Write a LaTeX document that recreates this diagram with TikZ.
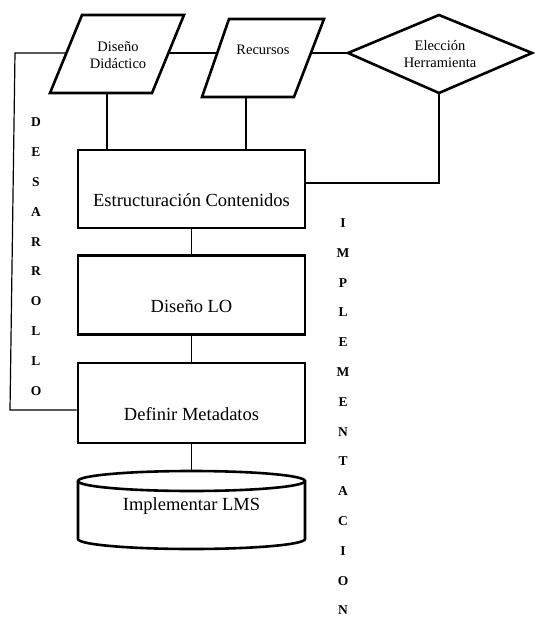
\documentclass[tikz,border=0pt]{standalone}
\usepackage{fontspec}
\setmainfont{Liberation Serif}
\begin{document}
\begin{tikzpicture}[x=1pt,y=-1pt,
  thick shape/.style={draw=black,line width=2.6pt,line join=miter},
  conn/.style={draw=black,line width=1.2pt},
  boxnode/.style={font=\fontsize{18.5}{21}\selectfont,inner sep=0pt},
  smalltxt/.style={font=\fontsize{14.5}{17}\selectfont,align=center,inner sep=0pt},
  letter/.style={font=\fontsize{13.5}{16}\selectfont\bfseries,inner sep=0pt}]
\useasboundingbox (0,0) rectangle (536,617);
% parallelogram 1
\coordinate (p1tl) at (82,15); \coordinate (p1tr) at (184,15);
\coordinate (p1br) at (152,93); \coordinate (p1bl) at (50,93);
\draw[thick shape] (p1tl) -- (p1tr) -- (p1br) -- (p1bl) -- cycle;
\node[smalltxt] (dd) at (118,55) {Diseño\\Didáctico};
% parallelogram 2
\coordinate (p2tl) at (229,19); \coordinate (p2tr) at (324,19);
\coordinate (p2br) at (294,97); \coordinate (p2bl) at (202,97);
\draw[thick shape] (p2tl) -- (p2tr) -- (p2br) -- (p2bl) -- cycle;
\node[smalltxt] (rec) at (263,50) {Recursos};
% diamond
\coordinate (dl) at (348,53); \coordinate (dt) at (439,15);
\coordinate (dr) at (532,53); \coordinate (db) at (439,93);
\draw[thick shape] (dl) -- (dt) -- (dr) -- (db) -- cycle;
\node[smalltxt] (el) at (440,54) {Elección\\Herramienta};
% boxes
\node[thick shape,boxnode,minimum width=227pt,minimum height=78pt] (b1) at (191.5,189) {};
\node[boxnode] (t1) at (191.5,200) {Estructuración Contenidos};
\node[thick shape,boxnode,minimum width=227pt,minimum height=79pt] (b2) at (191.5,295) {};
\node[boxnode] (t2) at (191.5,306) {Diseño LO};
\node[thick shape,boxnode,minimum width=227pt,minimum height=80pt] (b3) at (191.5,403) {};
\node[boxnode] (t3) at (191.5,414) {Definir Metadatos};
% cylinder
\coordinate (cyl) at (191.5,481);
\draw[thick shape] (78,481) -- (78,539) arc[start angle=180,end angle=360,x radius=113.5pt,y radius=10pt] -- (305,481);
\draw[thick shape,fill=white] (cyl) ellipse[x radius=113.5pt,y radius=10pt];
\node[boxnode] (t4) at (191.5,506) {Implementar LMS};
% connectors
\coordinate (lt) at (15,53);
\coordinate (lb) at (10,410);
\coordinate (p1l) at (66.4,53); \coordinate (p1r) at (168.4,53);
\coordinate (p2l) at (217.2,53); \coordinate (p2r) at (310.9,53);
\draw[conn] (p1l) -- (lt) -- (lb) -- (lb -| b3.west);
\draw[conn] (p1r) -- (p2l);
\draw[conn] (p2r) -- (dl);
\coordinate (p1b) at (107,93); \coordinate (p2b) at (246,97);
\draw[conn] (p1b) -- (p1b |- b1.north);
\draw[conn] (p2b) -- (p2b |- b1.north);
\coordinate (dcorner) at (db |- 0,183);
\draw[conn] (db) -- (dcorner) -- (dcorner -| b1.east);
\draw[conn] (b1.south) -- (b2.north);
\draw[conn] (b2.south) -- (b3.north);
\draw[conn] (b3.south) -- (191.5,471);
% vertical letters
\foreach \l [count=\i from 0] in {D,E,S,A,R,R,O,L,L,O}
  \node[letter] (d\i) at (36,122+29.9*\i) {\l};
\foreach \l [count=\i from 0] in {I,M,P,L,E,M,E,N,T,A,C,I,O,N}
  \node[letter] (m\i) at (343,223+29.8*\i) {\l};
\end{tikzpicture}
\end{document}
